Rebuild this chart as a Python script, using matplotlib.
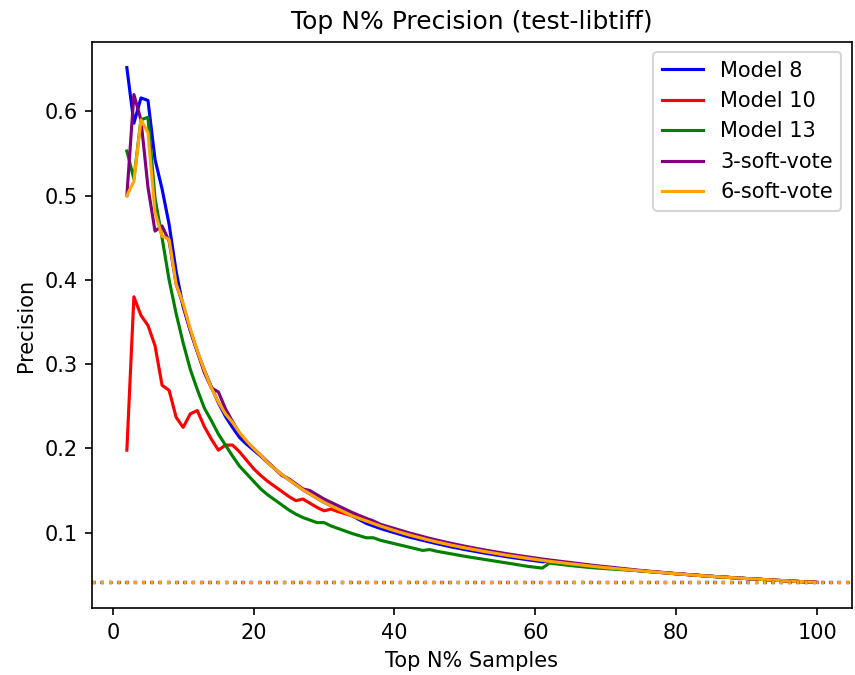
import numpy as np
import matplotlib
matplotlib.use("Agg")
import matplotlib.pyplot as plt

# Top N% of samples (x axis)
top_n = [2, 3, 4, 5, 6, 7, 8, 9, 10, 11, 12, 13, 14, 15, 16, 17, 18, 19, 20,
         21, 22, 23, 24, 25, 26, 27, 28, 29, 30, 31, 32, 34, 36, 37, 38, 40,
         42, 44, 45, 46, 48, 50, 53, 56, 59, 61, 62, 65, 68, 71, 75, 80, 85,
         90, 95, 100]

model_8 = [0.652, 0.586, 0.616, 0.613, 0.543, 0.508, 0.466, 0.410, 0.368, 0.340,
           0.315, 0.293, 0.273, 0.254, 0.238, 0.225, 0.213, 0.205, 0.198,
           0.191, 0.183, 0.176, 0.169, 0.163, 0.157, 0.151, 0.146, 0.141, 0.136,
           0.132, 0.128, 0.120, 0.111, 0.108, 0.105, 0.100,
           0.095, 0.091, 0.089, 0.087, 0.0833, 0.080, 0.0755, 0.0714, 0.0678,
           0.0655, 0.0661, 0.0631, 0.0603, 0.0577, 0.0547, 0.0513, 0.0482,
           0.0456, 0.0432, 0.041]

model_10 = [0.198, 0.380, 0.358, 0.346, 0.322, 0.275, 0.269, 0.237, 0.225, 0.241,
            0.245, 0.226, 0.211, 0.198, 0.204, 0.204, 0.196, 0.186, 0.176,
            0.168, 0.161, 0.155, 0.149, 0.143, 0.138, 0.140, 0.135, 0.130, 0.126,
            0.128, 0.125, 0.120, 0.114, 0.111, 0.108, 0.1025,
            0.0976, 0.0932, 0.0911, 0.0891, 0.0854, 0.082, 0.0774, 0.0732, 0.0695,
            0.0672, 0.0661, 0.0631, 0.0603, 0.0577, 0.0547, 0.0513, 0.0482,
            0.0456, 0.0432, 0.041]

model_13 = [0.553, 0.520, 0.590, 0.593, 0.497, 0.450, 0.400, 0.360, 0.325, 0.294,
            0.270, 0.248, 0.233, 0.217, 0.204, 0.191, 0.179, 0.170, 0.161,
            0.152, 0.145, 0.139, 0.133, 0.127, 0.122, 0.118, 0.115, 0.112, 0.112,
            0.108, 0.105, 0.099, 0.094, 0.094, 0.091, 0.087,
            0.083, 0.079, 0.080, 0.078, 0.075, 0.072, 0.068, 0.064, 0.060,
            0.058, 0.064, 0.061, 0.0585, 0.0568, 0.0547, 0.0513, 0.0482,
            0.0456, 0.0432, 0.041]

soft_vote_3 = [0.500, 0.620, 0.590, 0.510, 0.458, 0.464, 0.446, 0.395, 0.370, 0.340,
               0.315, 0.290, 0.272, 0.267, 0.247, 0.232, 0.218, 0.208, 0.200,
               0.192, 0.184, 0.176, 0.168, 0.164, 0.158, 0.152, 0.150, 0.145, 0.140,
               0.136, 0.132, 0.124, 0.117, 0.114, 0.110, 0.105,
               0.100, 0.0955, 0.0933, 0.0913, 0.0875, 0.084, 0.0792, 0.0750, 0.0712,
               0.0688, 0.0677, 0.0646, 0.0615, 0.0588, 0.0552, 0.0515, 0.0483,
               0.0456, 0.0432, 0.041]

soft_vote_6 = [0.500, 0.517, 0.590, 0.575, 0.480, 0.452, 0.448, 0.395, 0.372, 0.342,
               0.316, 0.293, 0.272, 0.255, 0.241, 0.231, 0.219, 0.209, 0.200,
               0.192, 0.183, 0.176, 0.169, 0.163, 0.157, 0.151, 0.146, 0.141, 0.136,
               0.132, 0.128, 0.120, 0.114, 0.111, 0.108, 0.1025,
               0.0976, 0.0932, 0.0911, 0.0891, 0.0854, 0.082, 0.0774, 0.0732, 0.0695,
               0.0672, 0.0661, 0.0631, 0.0603, 0.0577, 0.0547, 0.0513, 0.0482,
               0.0456, 0.0432, 0.041]

base_rate = 0.041

series = [("Model 8", model_8, "blue"),
          ("Model 10", model_10, "red"),
          ("Model 13", model_13, "green"),
          ("3-soft-vote", soft_vote_3, "purple"),
          ("6-soft-vote", soft_vote_6, "orange")]

fig = plt.figure(figsize=(855 / 150, 675 / 150), dpi=150)
ax = fig.add_subplot(111)
fig.subplots_adjust(left=0.108, right=0.996, bottom=0.099, top=0.938)

for name, vals, col in series:
    ax.plot(top_n, vals, color=col, label=name, linewidth=1.5)
for name, vals, col in series:
    ax.axhline(base_rate, color=col, linestyle=':', linewidth=1.5)

ax.set_title("Top N% Precision (test-libtiff)")
ax.set_xlabel("Top N% Samples")
ax.set_ylabel("Precision")
ax.legend(loc="upper right")

fig.savefig("out.png", dpi=150)
